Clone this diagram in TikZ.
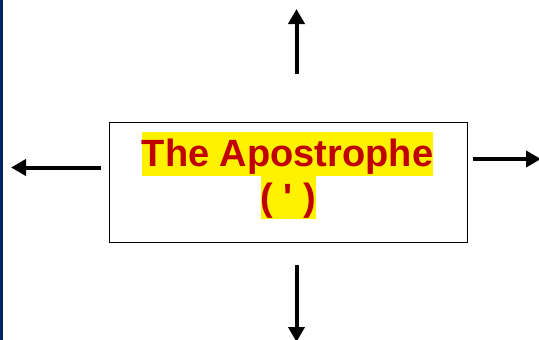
\documentclass[tikz,border=0pt]{standalone}
\usepackage{fontspec}
\setmainfont{Liberation Sans}[Ligatures=ResetAll]
\usetikzlibrary{arrows.meta}
\definecolor{barblue}{RGB}{0,36,100}
\definecolor{titlered}{RGB}{192,0,0}
\newcommand{\straightquote}{\XeTeXglyph\XeTeXglyphindex "quotesingle" \relax}
\tikzset{
	bigarrow/.style={line width=4pt, -{Triangle[length=15pt,width=16pt]}},
	hilite/.style={fill=yellow, text=titlered, inner xsep=0pt, inner ysep=0pt,
		text height=34.5pt, text depth=9pt, font=\fontsize{38}{44}\selectfont\bfseries}
}

\begin{document}
\begin{tikzpicture}[x=1pt, y=-1pt]
		%%%%% START %%%%%
		\useasboundingbox (0, 0) rectangle (539, 340);
		
		\fill[barblue] (0, 0) rectangle (3.3, 340);
		
		\node[draw, line width=1.7pt, minimum width=358pt, minimum height=120pt] (box) at (288.5, 182.5) {};
		\node[hilite] (line1) at (287.5, 154) {The Apostrophe};
		\node[hilite] (line2) at (288.5, 197.5) {( \straightquote\ )};
		
		\coordinate (up0) at (296.5, 74);
		\coordinate (up1) at (296.5, 9);
		\coordinate (down0) at (296.5, 265);
		\coordinate (down1) at (296.5, 342);
		\coordinate (left0) at (101, 167.5);
		\coordinate (left1) at (11, 167.5);
		\coordinate (right0) at (473, 159);
		\coordinate (right1) at (541, 159);
		
		\draw[bigarrow] (up0) -- (up1);
		\draw[bigarrow] (down0) -- (down1);
		\draw[bigarrow] (left0) -- (left1);
		\draw[bigarrow] (right0) -- (right1);
		
		%%%%% END %%%%%
	\end{tikzpicture}
\end{document}
